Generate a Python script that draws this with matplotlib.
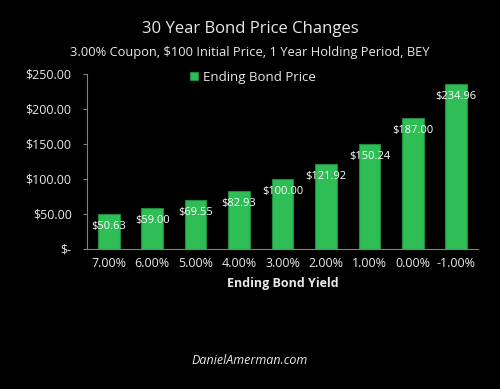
import matplotlib.pyplot as plt

# data
yields = ['7.00%', '6.00%', '5.00%', '4.00%', '3.00%', '2.00%', '1.00%', '0.00%', '-1.00%']
prices = [50.63, 59.00, 69.55, 82.93, 100.00, 121.92, 150.24, 187.00, 234.96]
yticks = [0, 50, 100, 150, 200, 250]
ytick_labels = ['$-', '$50.00', '$100.00', '$150.00', '$200.00', '$250.00']

plt.rcParams['font.family'] = ['Open Sans', 'DejaVu Sans']
txt = '#e8e8e8'

fig = plt.figure(figsize=(5, 3.89), dpi=100, facecolor='black')
ax = fig.add_axes([0.174, 0.36, 0.782, 0.45], facecolor='black')

x = range(len(yields))
ax.bar(x, prices, width=0.5, color='#2fbd55', edgecolor='#1d8a3c', linewidth=0.8,
       label='Ending Bond Price')

for i, v in enumerate(prices):
    ax.annotate(f'${v:,.2f}', (i, v), xytext=(0, -9), textcoords='offset points',
                ha='center', va='center', color='white', fontsize=8)

ax.set_xlim(-0.5, len(yields) - 0.5)
ax.set_ylim(0, 250)
ax.set_yticks(yticks)
ax.set_yticklabels(ytick_labels, fontsize=9, color=txt)
ax.set_xticks(list(x))
ax.set_xticklabels(yields, fontsize=9, color=txt)
ax.tick_params(axis='x', length=0, pad=6)
ax.tick_params(axis='y', length=3, color='#808080', pad=8)
for s in ['top', 'right']:
    ax.spines[s].set_visible(False)
ax.spines['left'].set_color('#808080')
ax.spines['bottom'].set_color('#808080')
ax.set_xlabel('Ending Bond Yield', fontsize=9, fontweight='bold', color=txt, labelpad=5)

fig.text(0.5, 0.925, '30 Year Bond Price Changes', ha='center', va='center',
         fontsize=12, color=txt)
fig.text(0.5, 0.866, '3.00% Coupon, $100 Initial Price, 1 Year Holding Period, BEY',
         ha='center', va='center', fontsize=9.3, color=txt)
fig.text(0.5, 0.074, 'DanielAmerman.com', ha='center', va='center',
         fontsize=9, style='italic', color=txt)

leg = ax.legend(loc='upper center', bbox_to_anchor=(0.425, 1.085), frameon=False,
                fontsize=9.5, handlelength=0.6, handleheight=0.6, handletextpad=0.4)
for t in leg.get_texts():
    t.set_color(txt)

plt.savefig('out.png', facecolor='black')
